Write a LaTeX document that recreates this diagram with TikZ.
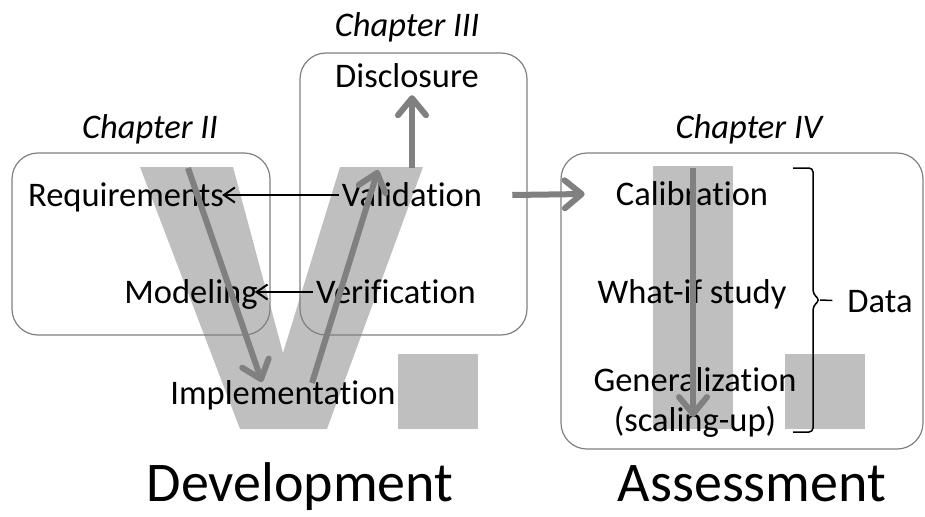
\documentclass[tikz,border=0pt]{standalone}
\usepackage{fontspec}
\setmainfont{Carlito}[Ligatures={NoCommon,NoContextual}]
\usetikzlibrary{arrows.meta}
\definecolor{vgray}{HTML}{BFBFBF}
\definecolor{agray}{HTML}{808080}

\begin{document}
\begin{tikzpicture}[x=1pt,y=-1pt,
  txt/.style={font=\fontsize{34.5}{40}\selectfont, inner sep=3pt, text height=26pt, text depth=4pt},
  chap/.style={font=\fontsize{34.5}{40}\selectfont\itshape, inner sep=0pt, anchor=base},
  big/.style={font=\fontsize{56}{60}\selectfont, inner sep=0pt, anchor=base},
  chapbox/.style={draw=agray, line width=1.2pt, rounded corners=26pt},
  garrow/.style={draw=agray, line width=6pt, -{Straight Barb[length=17pt,width=28pt,round]}},
  barrow/.style={line width=2pt, -{Straight Barb[length=11pt,width=15pt]}}]
    \useasboundingbox (0,0) rectangle (925,516);

    % the V and the I
    \fill[vgray] (140,167) -- (233,167) -- (283,353) -- (340,167) -- (423,167) -- (327,429) -- (240,429) -- cycle;
    \fill[vgray] (398,354) rectangle (478,429);
    \fill[vgray] (653,166) rectangle (733,429);
    \fill[vgray] (785,354) rectangle (865,429);

    % chapter boxes
    \draw[chapbox] (12,153) rectangle (270,335);
    \draw[chapbox] (300,53) rectangle (527,335);
    \draw[chapbox] (561,153) rectangle (923,449);

    \node[chap] (ch2) at (150,139) {Chapter II};
    \node[chap] (ch3) at (407,37) {Chapter III};
    \node[chap] (ch4) at (749,139) {Chapter IV};

    \node[txt] (req) at (126,195) {Requirements};
    \node[txt] (val) at (412,195) {Validation};
    \node[txt] (mod) at (191,292) {Modeling};
    \node[txt] (ver) at (396,292) {Verification};
    \node[txt] (imp) at (283,393) {Implementation};
    \node[txt] (dis) at (407,77) {Disclosure};
    \node[txt] (cal) at (692,194) {Calibration};
    \node[txt] (what) at (692,292) {What-if study};
    \node[txt] (gen) at (695,380) {Generalization};
    \node[txt] (scal) at (695,420) {(scaling-up)};
    \node[txt] (data) at (880,301) {Data};

    \node[big] (dev) at (300,501) {Development};
    \node[big] (ass) at (752,501) {Assessment};

    \coordinate (vlt) at (188,168);
    \coordinate (vlb) at (262,382);
    \coordinate (vrb) at (312,383);
    \coordinate (vrt) at (378,170);
    \coordinate (dt) at (412,168);
    \coordinate (it) at (693,168);
    \coordinate (ib) at (693,417);
    \coordinate (btip) at (820,300);

    \draw[garrow] (vlt) -- (vlb);
    \draw[garrow] (vrb) -- (vrt);
    \draw[garrow] (dt) -- (dt |- dis.south);
    \draw[garrow] ([xshift=27pt]val.east) -- ([xshift=-28pt]cal.west);
    \draw[garrow] (it) -- (ib);

    \draw[barrow, shorten >=-5pt] (val) -- (req);
    \draw[barrow, shorten >=-6pt] (ver) -- (mod);

    % data brace
    \draw[line width=1.5pt, rounded corners=4pt] (793,168) -- (813,168) -- (813,294) -- (btip) -- (813,306) -- (813,432) -- (793,432);
    \draw[line width=1.5pt, shorten >=12pt] (btip) -- (data.west);
\end{tikzpicture}
\end{document}
